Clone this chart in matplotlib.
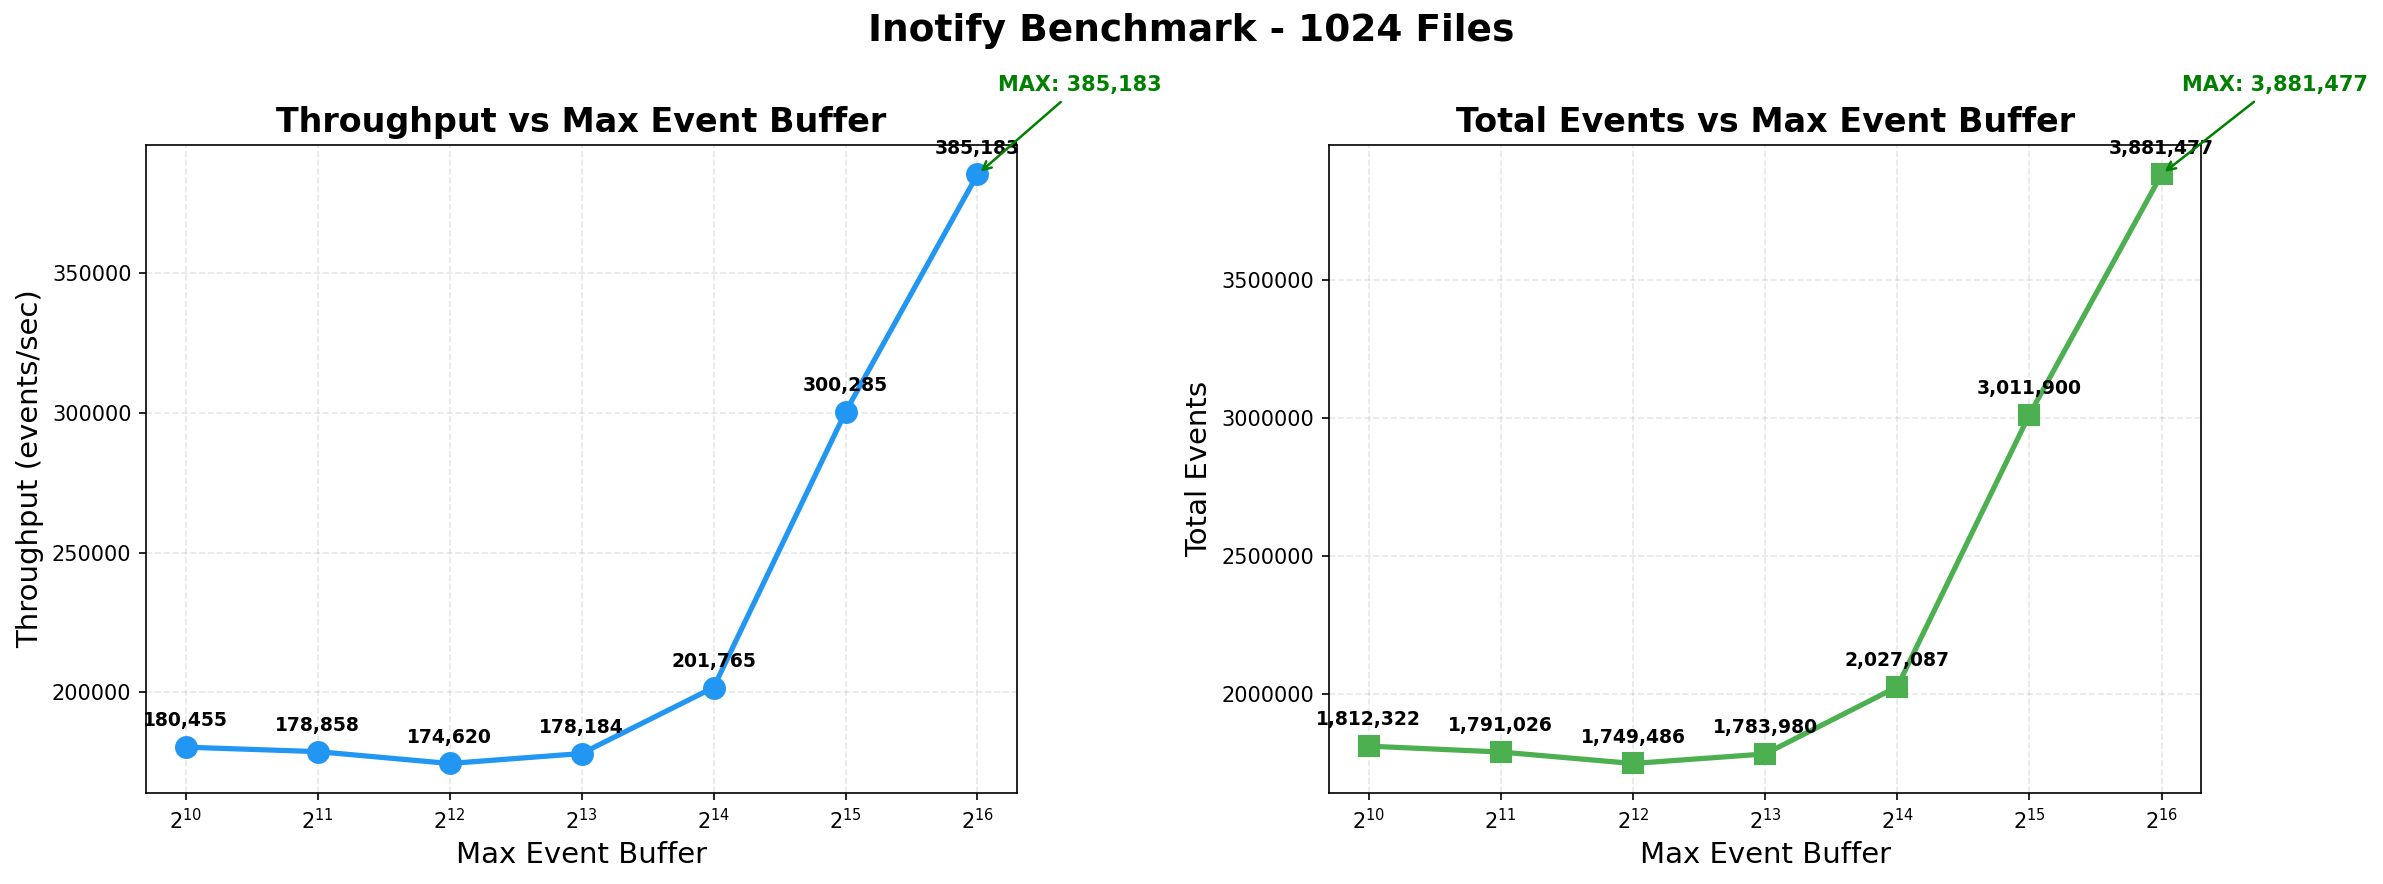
import matplotlib
matplotlib.use("Agg")
import matplotlib.pyplot as plt

buffer_sizes = [1024, 2048, 4096, 8192, 16384, 32768, 65536]
throughput = [180455, 178858, 174620, 178184, 201765, 300285, 385183]
total_events = [1812322, 1791026, 1749486, 1783980, 2027087, 3011900, 3881477]

fig = plt.figure(figsize=(2383 / 150, 884 / 150), dpi=150)
ax1 = fig.add_axes([0.0613, 0.103, 0.3655, 0.733])
ax2 = fig.add_axes([0.5577, 0.103, 0.3660, 0.733])

fig.suptitle("Inotify Benchmark - 1024 Files", fontsize=18, fontweight="bold", y=0.985)

panels = [
    (ax1, throughput, "#2196F3", "o", "Throughput vs Max Event Buffer", "Throughput (events/sec)"),
    (ax2, total_events, "#4CAF50", "s", "Total Events vs Max Event Buffer", "Total Events"),
]

for ax, vals, color, marker, title, ylabel in panels:
    ax.plot(buffer_sizes, vals, color=color, marker=marker, linewidth=2.5, markersize=10)
    ax.set_xscale("log", base=2)
    ax.set_xticks(buffer_sizes)
    ax.set_title(title, fontsize=16, fontweight="bold")
    ax.set_xlabel("Max Event Buffer", fontsize=14)
    ax.set_ylabel(ylabel, fontsize=14)
    ax.grid(True, linestyle="--", alpha=0.3)
    ax.ticklabel_format(axis="y", style="plain")
    for x, v in zip(buffer_sizes, vals):
        ax.annotate(f"{v:,}", (x, v), textcoords="offset points", xytext=(0, 10),
                    ha="center", fontsize=9, fontweight="bold")
    imax = vals.index(max(vals))
    ax.annotate(f"MAX: {vals[imax]:,}", (buffer_sizes[imax], vals[imax]),
                textcoords="offset points", xytext=(10, 40), fontsize=10,
                fontweight="bold", color="green",
                arrowprops=dict(arrowstyle="->", color="green", lw=1.2))

fig.savefig("out.png", dpi=150)
